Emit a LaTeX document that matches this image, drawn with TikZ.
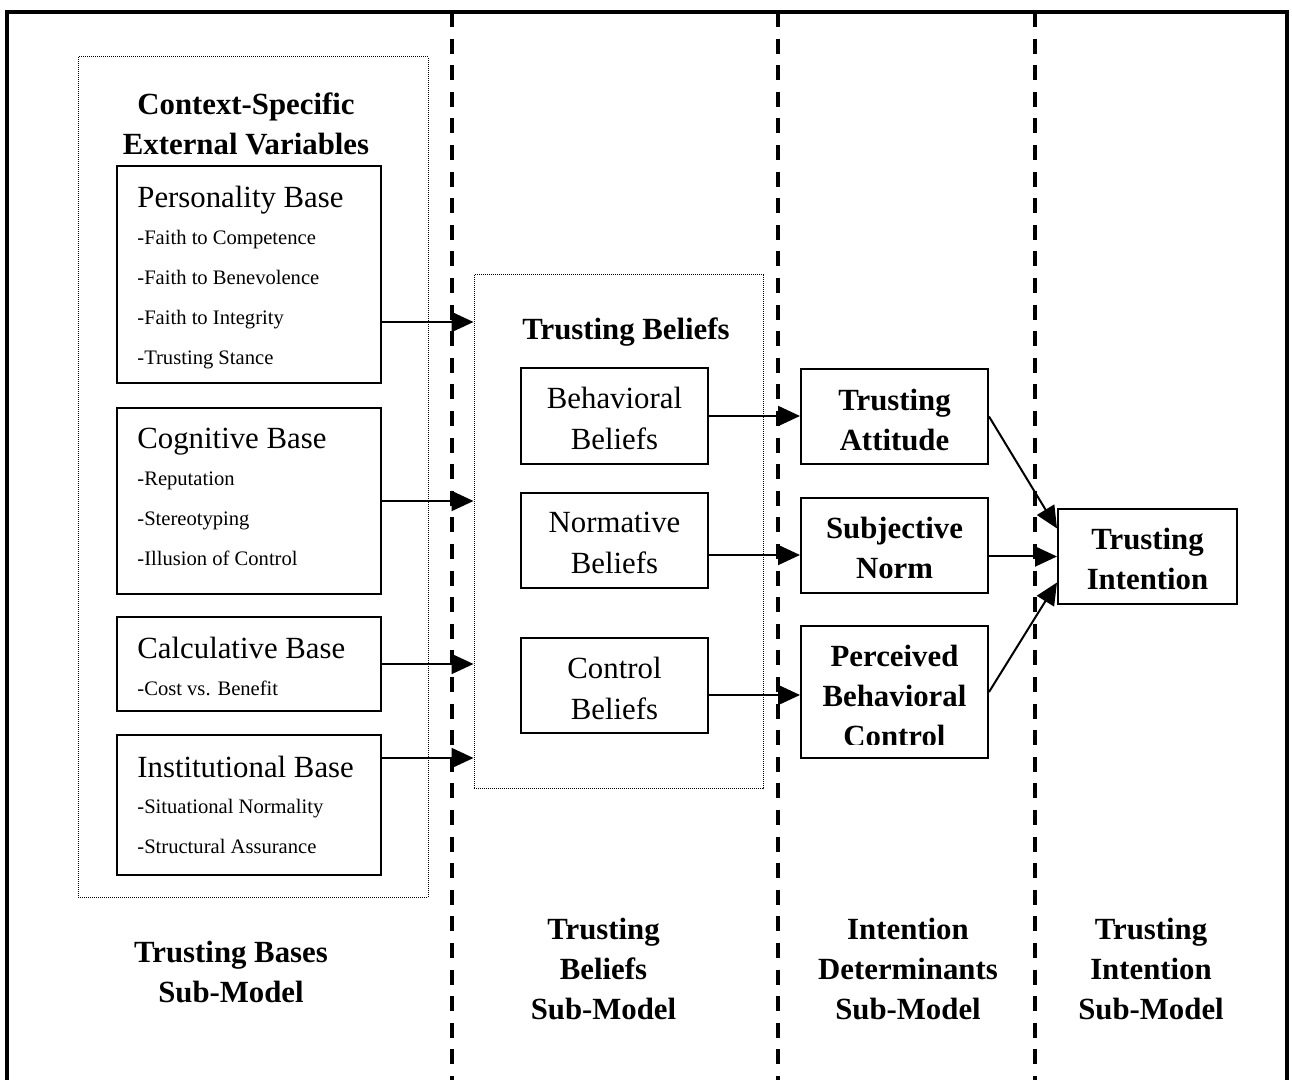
\documentclass[tikz,border=0pt]{standalone}
\usepackage{fontspec}
\setmainfont{Liberation Serif}
\usetikzlibrary{arrows.meta,fit,calc}
\newcommand\fHead{\fontsize{15.4pt}{20.5pt}\selectfont}
\newcommand\fItem{\fontsize{10.3pt}{12pt}\selectfont}
\newcommand\fBold{\fontsize{15.4pt}{20pt}\selectfont\bfseries}

\begin{document}
\begin{tikzpicture}[x=0.5pt,y=-0.5pt,
  frame/.style={line width=1.8pt},
  divider/.style={line width=2pt, dash pattern=on 7.5pt off 5.8pt},
  group/.style={draw, line width=0.5pt, dash pattern=on 0.5pt off 0.5pt, inner sep=0pt},
  box/.style={draw, line width=1pt, inner sep=0pt},
  head/.style={anchor=base west, font=\fHead, inner sep=0pt},
  item/.style={anchor=base west, font=\fItem, inner sep=0pt},
  % multi-line nodes: the base anchor sits on the baseline of the last line
  title/.style={anchor=base, font=\fBold, align=center, inner sep=0pt},
  plain/.style={anchor=base, font=\fHead, align=center, inner sep=0pt},
  arr/.style={line width=1pt, -{Triangle[length=11pt,width=10pt]}},
]
\useasboundingbox (0,0) rectangle (1292,1080);

% outer frame (open at the bottom) and column dividers
\draw[frame] (7,1080) -- (7,12) -- (1287,12) -- (1287,1080);
\foreach \xd in {452,778,1035}
  \draw[divider] (\xd,12) -- (\xd,1080);

% dotted grouping frames
\node[group, fit={(78,57) (428,897)}] (ext) {};
\node[group, fit={(474,275) (763,789)}] (tb) {};

\node[title] (extT) at (246,155) {Context-Specific\\External Variables};
\node[title] (tbT) at (626,340) {Trusting Beliefs};

% trusting bases
\node[box, fit={(117,166) (381,383)}] (pers) {};
\node[head] (persH) at (137,208) {Personality Base};
\node[item] (persA) at (137,245) {-Faith to Competence};
\node[item] (persB) at (137,285) {-Faith to Benevolence};
\node[item] (persC) at (137,325) {-Faith to Integrity};
\node[item] (persD) at (137,365) {-Trusting Stance};

\node[box, fit={(117,408) (381,594)}] (cog) {};
\node[head] (cogH) at (137,449) {Cognitive Base};
\node[item] (cogA) at (137,486) {-Reputation};
\node[item] (cogB) at (137,526) {-Stereotyping};
\node[item] (cogC) at (137,566) {-Illusion of Control};

\node[box, fit={(117,617) (381,711)}] (calcb) {};
\node[head] (calcH) at (137,659) {Calculative Base};
\node[item] (calcA) at (137,696) {-Cost vs. Benefit};

\node[box, fit={(117,735) (381,875)}] (inst) {};
\node[head] (instH) at (137,777) {Institutional Base};
\node[item] (instA) at (137,813) {-Situational Normality};
\node[item] (instB) at (137,853) {-Structural Assurance};

% trusting beliefs
\node[box, fit={(521,368) (708,464)}] (bb) {};
\node[plain] (bbT) at (614.5,450) {Behavioral\\Beliefs};
\node[box, fit={(521,493) (708,588)}] (nb) {};
\node[plain] (nbT) at (614.5,574) {Normative\\Beliefs};
\node[box, fit={(521,638) (708,733)}] (cb) {};
\node[plain] (cbT) at (614.5,719) {Control\\Beliefs};

% intention determinants
\node[box, fit={(801,369) (988,464)}] (ta) {};
\node[title] (taT) at (894.5,451) {Trusting\\Attitude};
\node[box, fit={(801,498) (988,593)}] (sn) {};
\node[title] (snT) at (894.5,579) {Subjective\\Norm};
\node[box, fit={(801,626) (988,758)}] (pbc) {};
\begin{scope}
  \clip (801,626) rectangle (988,745);
  \node[title] (pbcT) at (894.5,747) {Perceived\\Behavioral\\Control};
\end{scope}

% trusting intention
\node[box, fit={(1058,509) (1237,604)}] (ti) {};
\node[title] (tiT) at (1147.5,590) {Trusting\\Intention};

% connectors
\draw[arr] (pers.east |- 0,322) -- (tb.west |- 0,322);
\draw[arr] (cog.east) -- (cog.east -| tb.west);
\draw[arr] (calcb.east) -- (calcb.east -| tb.west);
\draw[arr] (inst.east |- 0,758) -- (tb.west |- 0,758);

\draw[arr] (bb.east) -- (bb.east -| ta.west);
\draw[arr] (nb.east |- 0,555) -- (sn.west |- 0,555);
\draw[arr] (cb.east |- 0,695) -- (pbc.west |- 0,695);

\draw[arr] (ta.east) -- ($(ti.west)+(0,-28)$);
\draw[arr] (sn.east |- ti.west) -- (ti.west);
\draw[arr] (pbc.east) -- ($(ti.west)+(0,26)$);

% sub-model labels
\node[title] (lab1) at (231,1002) {Trusting Bases\\Sub-Model};
\node[title] (lab2) at (603.5,1019) {Trusting\\Beliefs\\Sub-Model};
\node[title] (lab3) at (908,1019) {Intention\\Determinants\\Sub-Model};
\node[title] (lab4) at (1151,1019) {Trusting\\Intention\\Sub-Model};
\end{tikzpicture}
\end{document}
